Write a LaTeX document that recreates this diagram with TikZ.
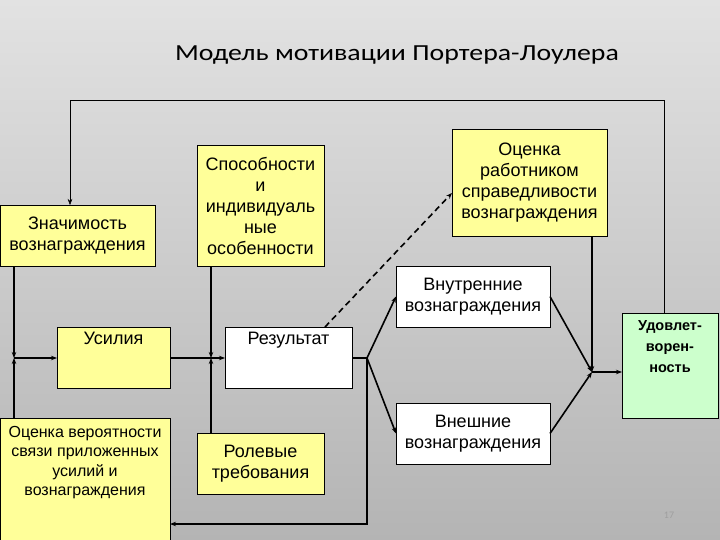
\documentclass[tikz,border=0pt]{standalone}
\usepackage{fontspec}
\setmainfont{Liberation Sans}
\newfontfamily\titlefont{Carlito}
\usetikzlibrary{arrows.meta,positioning}
\definecolor{bgtop}{RGB}{226,226,226}
\definecolor{bgbot}{RGB}{180,180,180}
\definecolor{boxyel}{RGB}{255,255,153}
\definecolor{boxgrn}{RGB}{204,255,204}
\begin{document}
\begin{tikzpicture}[x=1pt,y=-1pt,>={Stealth[length=6pt,width=4.5pt]}]
    \tikzstyle{blk}=[draw,thin,outer sep=0pt,inner sep=1pt,align=center,anchor=north west,
      font=\fontsize{18}{21}\selectfont]
    \tikzstyle{yel}=[blk,fill=boxyel]
    \tikzstyle{wht}=[blk,fill=white]
    \tikzstyle{txt}=[anchor=north,align=center,font=\fontsize{18}{21}\selectfont]
    \tikzstyle{lnk}=[line width=1.6pt]
    \clip (0,0) rectangle (720,540);
    \shade[top color=bgtop,bottom color=bgbot] (0,0) rectangle (720,540);
    \node[font=\titlefont\fontsize{23}{27}\selectfont] (title) at (397,55) {\scalebox{1.21}[1]{Модель мотивации Портера-Лоулера}};
    % boxes
    \node[yel,minimum width=155,minimum height=61] (znach) at (0,205) {Значимость\\вознаграждения};
    \node[yel,minimum width=127,minimum height=121] (spos) at (197,145) {Способности\\и\\индивидуаль\\ные\\особенности};
    \node[yel,minimum width=155,minimum height=107] (ocrab) at (452,129) {Оценка\\работником\\справедливости\\вознаграждения};
    \node[wht,minimum width=154,minimum height=61] (vnutr) at (396,266) {Внутренние\\вознаграждения};
    \node[yel,minimum width=113,minimum height=61] (usil) at (57,327) {};
    \node[wht,minimum width=127,minimum height=61] (rez) at (225,327) {};
    \node[yel,minimum width=170,minimum height=130] (ocver) at (0,418) {};
    \node[yel,minimum width=127,minimum height=61] (rol) at (197,433) {Ролевые\\требования};
    \node[wht,minimum width=154,minimum height=61] (vnesh) at (396,403) {Внешние\\вознаграждения};
    \node[blk,fill=boxgrn,minimum width=96,minimum height=105] (udovl) at (622,313) {};
    \node[txt,below=2pt of usil.north] (usiltxt) {Усилия};
    \node[txt,below=2pt of rez.north] (reztxt) {Результат};
    \node[txt,below=5pt of ocver.north,font=\fontsize{16}{19.2}\selectfont] (ocvertxt) {Оценка вероятности\\связи приложенных\\усилий и\\вознаграждения};
    \node[txt,below=4pt of udovl.north,font=\bfseries\fontsize{14.5}{21}\selectfont] (udovltxt) {Удовлет-\\ворен-\\ность};
    \node[text=gray!75,font=\titlefont\fontsize{10}{12}\selectfont] (pnum) at (669,515) {17};
    % junctions
    \coordinate (j1) at (14,358);
    \coordinate (j2) at (211,358);
    \coordinate (j3) at (367,358);
    \coordinate (j4) at (592,372);
    \coordinate (b1) at (367,524);
    \coordinate (t1) at (664,100);
    \coordinate (t2) at (70,100);
    % connectors
    \draw[lnk,->] (znach.south -| j1) -- (j1);
    \draw[lnk,->] (ocver.north -| j1) -- (j1);
    \draw[lnk,->] (j1) -- (usil.west |- j1);
    \draw[lnk] (usil.east |- j2) -- (j2);
    \draw[lnk,->] (spos.south -| j2) -- (j2);
    \draw[lnk,->] (rol.north -| j2) -- (j2);
    \draw[lnk,->] (j2) -- (rez.west |- j2);
    \draw[lnk] (rez.east |- j3) -- (j3);
    \draw[lnk,->] (j3) -- (vnutr.west);
    \draw[lnk,->] (j3) -- (vnesh.west);
    \draw[lnk,->] (j3) -- (b1) -- (b1 -| ocver.east);
    \draw[lnk,dash pattern=on 6pt off 4pt,->] ([xshift=-27pt]rez.north east) -- ([yshift=-10.5pt]ocrab.west);
    \draw[lnk,->] (vnutr.east) -- (j4);
    \draw[lnk,->] (vnesh.east) -- (j4);
    \draw[lnk,->] (ocrab.south -| j4) -- (j4);
    \draw[lnk,->] (j4) -- (udovl.west |- j4);
    \draw[thin,->] (udovl.north -| t1) -- (t1) -- (t2) -- (znach.north -| t2);
\end{tikzpicture}
\end{document}
